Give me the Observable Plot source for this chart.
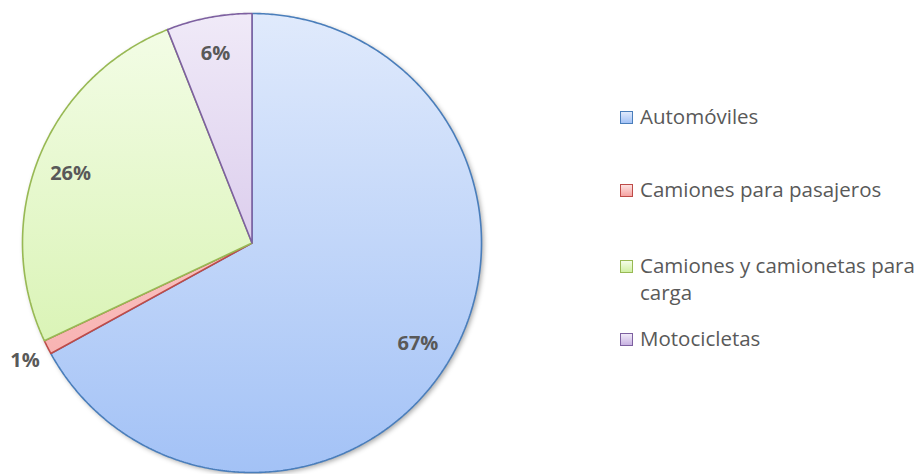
<!DOCTYPE html>
<html>
<head>
<meta charset="utf-8">
<script src="https://cdn.jsdelivr.net/npm/d3@7"></script>
<script src="https://cdn.jsdelivr.net/npm/@observablehq/plot@0.6"></script>
<style>
  html, body { margin: 0; padding: 0; background: #fff; }
  #wrap { position: relative; width: 921px; height: 474px; font-family: "Open Sans", sans-serif; }
  .leg { position: absolute; left: 620px; width: 300px; color: #595959; font-size: 20.5px; line-height: 27px; }
  .leg .sw { position: absolute; left: 0; width: 11px; height: 11px; border: 1px solid; }
  .leg .tx { position: absolute; left: 20px; width: 281px; }
</style>
</head>
<body>
<div id="wrap"></div>
<script>
const categories = ["Automóviles", "Camiones para pasajeros", "Camiones y camionetas para carga", "Motocicletas"];
const values = [67, 1, 26, 6];
const labels = ["67%", "1%", "26%", "6%"];
const strokes = ["#4a7ebb", "#be4b48", "#98b954", "#7d60a0"];
const gradTop = ["#e0eafc", "#fde2e1", "#f4fde8", "#f0eaf8"];
const gradBottom = ["#a3c2f6", "#f6a3a2", "#d0f0a3", "#c8b2e2"];

const data = categories.map((c, i) => ({category: c, value: values[i], label: labels[i], i}));
const arcs = d3.pie().sort(null).value(d => d.value)(data);

const slices = arcs.map(a => {
  const pts = [{x: 0, y: 0}];
  const n = Math.max(2, Math.ceil((a.endAngle - a.startAngle) / (Math.PI / 360)));
  for (let k = 0; k <= n; k++) {
    const t = a.startAngle + (a.endAngle - a.startAngle) * k / n;
    pts.push({x: Math.sin(t), y: Math.cos(t)});
  }
  pts.push({x: 0, y: 0});
  return pts;
});

const labelPts = arcs.map(a => {
  const m = (a.startAngle + a.endAngle) / 2;
  const rr = a.data.value < 3 ? 1.11 : (a.data.value > 50 ? 0.84 : 0.85);
  return {x: rr * Math.sin(m), y: rr * Math.cos(m), label: a.data.label};
});

const circle = d3.range(0, 361).map(d => ({x: Math.sin(d * Math.PI / 180), y: Math.cos(d * Math.PI / 180)}));

const chart = Plot.plot({
  width: 921,
  height: 474,
  margin: 0,
  x: {domain: [-1, 1], range: [22, 481], axis: null},
  y: {domain: [-1, 1], range: [472, 13], axis: null},
  marks: [
    Plot.line(circle, {x: "x", y: "y", fill: "#000", fillOpacity: 0.35, stroke: "none", dx: 2, dy: 2}),
    ...slices.map((pts, i) => Plot.line(pts, {x: "x", y: "y", fill: `url(#grad${i})`, stroke: strokes[i], strokeWidth: 1.6, strokeLinejoin: "miter"})),
    Plot.text(labelPts, {x: "x", y: "y", text: "label", fill: "#595959", fontSize: 20, fontWeight: "bold", fontFamily: "Open Sans", dy: 2})
  ]
});

const svg = d3.select(chart);
const defs = svg.insert("defs", ":first-child");
gradTop.forEach((t, i) => {
  const g = defs.append("linearGradient").attr("id", `grad${i}`)
    .attr("gradientUnits", "userSpaceOnUse").attr("x1", 0).attr("x2", 0).attr("y1", 13).attr("y2", 472);
  g.append("stop").attr("offset", "0%").attr("stop-color", t);
  g.append("stop").attr("offset", "100%").attr("stop-color", gradBottom[i]);
});
const f = defs.append("filter").attr("id", "blur").attr("x", "-10%").attr("y", "-10%").attr("width", "120%").attr("height", "120%");
f.append("feGaussianBlur").attr("stdDeviation", 2.5);
svg.select("g[aria-label='line']").attr("filter", "url(#blur)");

const wrap = document.getElementById("wrap");
wrap.appendChild(chart);

const legendTops = [103, 176, 252, 325];
categories.forEach((c, i) => {
  const row = document.createElement("div");
  row.className = "leg";
  row.style.top = legendTops[i] + "px";
  const sw = document.createElement("div");
  sw.className = "sw";
  sw.style.top = "8px";
  sw.style.borderColor = strokes[i];
  sw.style.background = `linear-gradient(${gradTop[i]}, ${gradBottom[i]})`;
  const tx = document.createElement("div");
  tx.className = "tx";
  tx.textContent = c;
  row.appendChild(sw);
  row.appendChild(tx);
  wrap.appendChild(row);
});
</script>
</body>
</html>
